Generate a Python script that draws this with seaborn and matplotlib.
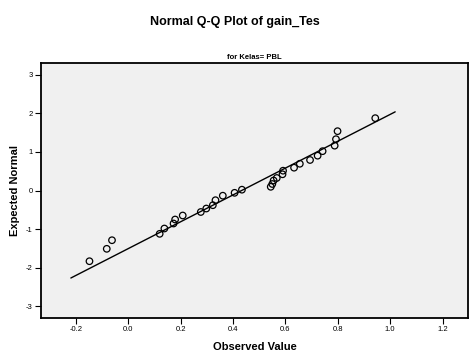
import matplotlib
matplotlib.use("Agg")
import matplotlib.pyplot as plt
import seaborn as sns
import pandas as pd
import numpy as np

observed = [-0.148, -0.082, -0.062, 0.120, 0.138, 0.173, 0.179, 0.208, 0.277, 0.298,
            0.323, 0.333, 0.361, 0.406, 0.434, 0.544, 0.550, 0.555, 0.567, 0.589,
            0.591, 0.633, 0.655, 0.694, 0.723, 0.742, 0.788, 0.793, 0.799, 0.943]
expected = [-1.836, -1.514, -1.291, -1.125, -0.987, -0.857, -0.753, -0.649, -0.558, -0.468,
            -0.382, -0.252, -0.135, -0.060, 0.021, 0.096, 0.169, 0.260, 0.325, 0.421,
            0.514, 0.592, 0.694, 0.792, 0.904, 1.021, 1.164, 1.332, 1.540, 1.878]
line_mean = 0.433
line_sd = 0.287
line_x = [-0.219, 1.019]
x_ticks = [-0.2, 0.0, 0.2, 0.4, 0.6, 0.8, 1.0, 1.2]
y_ticks = [-3, -2, -1, 0, 1, 2, 3]

sns.set_style("white")
plt.rcParams['font.family'] = ['Liberation Sans', 'DejaVu Sans']
plt.rcParams['axes.unicode_minus'] = False

df = pd.DataFrame({"obs": observed, "exp": expected})
ldf = pd.DataFrame({"x": line_x, "y": [(v - line_mean) / line_sd for v in line_x]})

fig = plt.figure(figsize=(4.70, 3.53), dpi=100)
ax = fig.add_axes([41/470, 1 - 318/353, (468-41)/470, (318-63)/353])
ax.set_facecolor("#f0f0f0")

sns.lineplot(data=ldf, x="x", y="y", ax=ax, color="black", linewidth=1.0)
sns.scatterplot(data=df, x="obs", y="exp", ax=ax, marker="o", s=22,
                facecolor="none", edgecolor="black", linewidth=0.9)

ax.set_xlim(-0.333, 1.297)
ax.set_ylim(-3.31, 3.31)
ax.set_xticks(x_ticks)
ax.set_xticklabels([f"{t:.1f}" for t in x_ticks])
ax.set_yticks(y_ticks)
ax.set_yticklabels([str(t) for t in y_ticks])
ax.tick_params(axis="both", direction="out", length=4, width=0.8, labelsize=5.5,
               colors="black", pad=2, left=True, bottom=True)
for s in ax.spines.values():
    s.set_color("black")
    s.set_linewidth(1.3)

ax.set_xlabel("Observed Value", fontsize=8, fontweight="bold", labelpad=6, color="black")
ax.set_ylabel("Expected Normal", fontsize=8, fontweight="bold", labelpad=4, color="black")
ax.set_title("for Kelas= PBL", fontsize=5.5, fontweight="bold", pad=3, color="black")
fig.text(0.5, 1 - 22/353, "Normal Q-Q Plot of gain_Tes", ha="center", va="center",
         fontsize=9, fontweight="bold", color="black")

fig.savefig("out.png", dpi=100)
